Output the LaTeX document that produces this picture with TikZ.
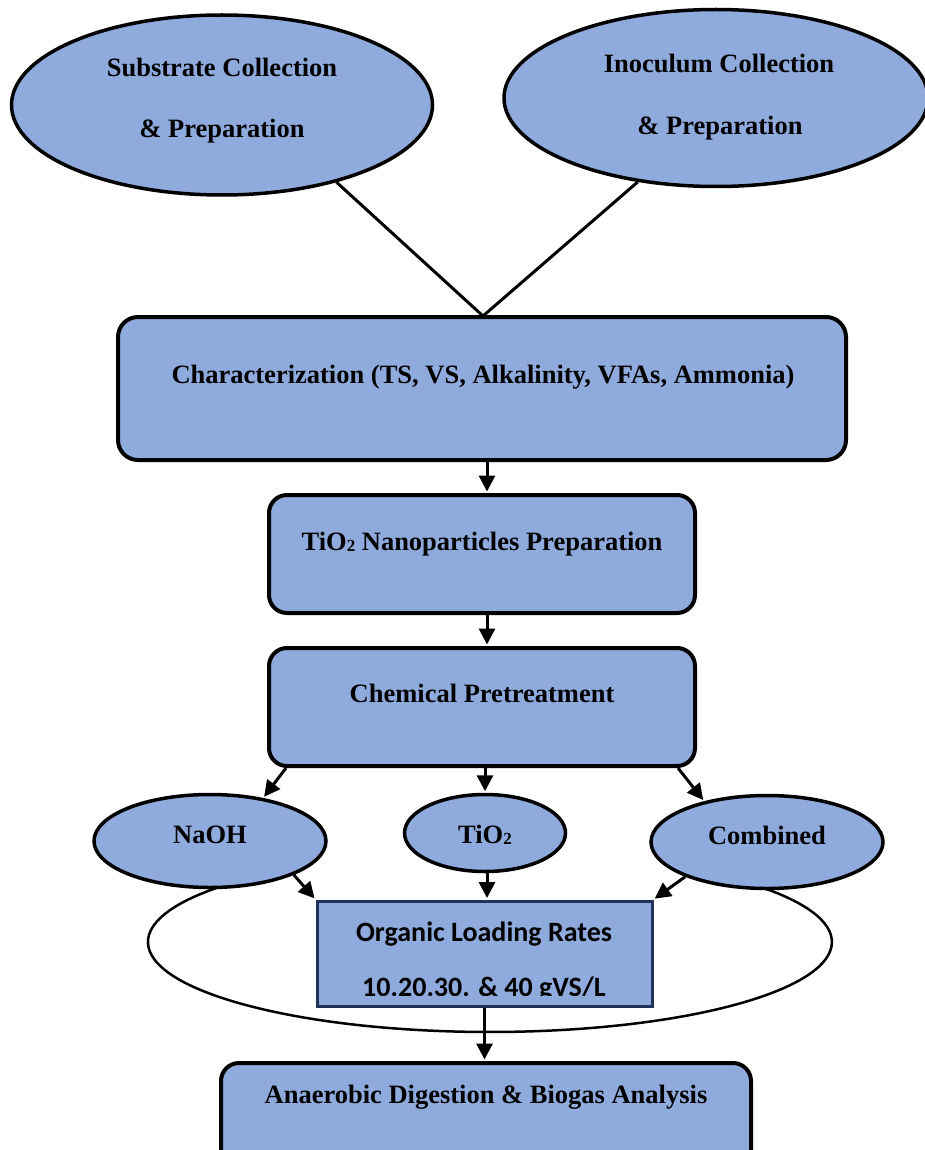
\documentclass[tikz,border=0pt]{standalone}
\usepackage{fontspec}
\setmainfont{Liberation Serif}
\newfontfamily\calib{Carlito}
\usetikzlibrary{arrows.meta,calc,shapes.geometric}
\definecolor{boxblue}{RGB}{143,170,220}
\definecolor{navyline}{RGB}{31,50,90}
\newcommand\subtwo{\raisebox{-1pt}{\fontsize{17}{17}\selectfont 2}}
\begin{document}
\begin{tikzpicture}[x=1pt,y=-1pt,
  oval/.style={ellipse,draw=black,line width=3.5pt,fill=boxblue,inner sep=0pt},
  rbox/.style={rectangle,rounded corners=20pt,draw=black,line width=4pt,fill=boxblue,inner sep=0pt},
  lbl/.style={font=\fontsize{26.5}{30}\selectfont\bfseries,inner sep=0pt,anchor=base},
  olrtxt/.style={font=\calib\fontsize{28}{30}\selectfont\bfseries,inner sep=0pt,anchor=base},
  arr/.style={line width=3pt,-{Triangle[length=16pt,width=16pt]},shorten >=1.5pt},
  link/.style={line width=3pt}]
\useasboundingbox (0,0) rectangle (925,1150);
\fill[white] (0,0) rectangle (925,1150);

% top ellipses
\node[oval,minimum width=421pt,minimum height=180pt] (sub) at (222,105) {};
\node[lbl] (subA) at (222,77) {Substrate Collection};
\node[lbl] (subB) at (222,138) {\& Preparation};
\node[oval,minimum width=424pt,minimum height=177pt] (ino) at (716,98) {};
\node[lbl] (inoA) at (719,73) {Inoculum Collection};
\node[lbl] (inoB) at (720,135) {\& Preparation};

% characterization
\node[rbox,minimum width=728pt,minimum height=143pt] (char) at (482,388.5) {};
\node[lbl] (charT) at (483,383) {Characterization (TS, VS, Alkalinity, VFAs, Ammonia)};
\coordinate (meet) at (483,316);
\draw[link] (sub.-34) -- (meet) -- (ino.-133);

% TiO2 preparation
\node[rbox,rounded corners=18pt,minimum width=426pt,minimum height=118pt] (tbox) at (482,554) {};
\node[lbl] (tboxT) at (482,550) {TiO\subtwo{} Nanoparticles Preparation};
\draw[arr] ([xshift=5pt]char.south) -- ([xshift=5pt]tbox.north);

% chemical pretreatment
\node[rbox,rounded corners=18pt,minimum width=426pt,minimum height=118pt] (chem) at (482,707) {};
\node[lbl] (chemT) at (482,702) {Chemical Pretreatment};
\draw[arr] ([xshift=5pt]tbox.south) -- ([xshift=5pt]chem.north);

% big open ellipse
\draw[line width=2.5pt] (235,882) arc[start angle=221.8, end angle=-40.5, x radius=342, y radius=90];

% small ellipses
\node[oval,minimum width=232pt,minimum height=93pt] (naoh) at (210,841) {};
\node[lbl] (naohT) at (210,843) {NaOH};
\node[oval,minimum width=161pt,minimum height=77pt] (tio) at (485,833) {};
\node[lbl] (tioT) at (485,843) {TiO\subtwo};
\node[oval,minimum width=232pt,minimum height=93pt] (comb) at (767,842) {};
\node[lbl] (combT) at (767,844) {Combined};

\draw[arr] ($(chem.south west)+(19,0)$) -- (naoh.39);
\draw[arr] (tio.north |- chem.south) -- (tio.north);
\draw[arr] ($(chem.south east)+(-19,0)$) -- (comb.147);

% organic loading rates
\node[rectangle,draw=navyline,line width=3pt,fill=boxblue,minimum width=335pt,minimum height=105pt,inner sep=0pt] (olr) at (484.5,953.5) {};
\node[olrtxt] (olrA) at (484,941) {Organic Loading Rates};
\begin{scope}
\clip (318,902) rectangle (651,995);
\node[olrtxt] (olrB) at (484,996) {10.20.30. \& 40 gVS/L};
\end{scope}
\draw[arr] (naoh.-22) -- (olr.north west);
\draw[arr] ([xshift=2pt]tio.south) -- ([xshift=2pt]tio.south |- olr.north);
\draw[arr] (comb.203) -- (olr.north east);

% anaerobic digestion
\node[rbox,rounded corners=18pt,minimum width=530pt,minimum height=120pt] (ana) at (486,1123) {};
\node[lbl] (anaT) at (486,1103) {Anaerobic Digestion \& Biogas Analysis};
\draw[arr] (olr.south) -- (olr.south |- ana.north);
\end{tikzpicture}
\end{document}
